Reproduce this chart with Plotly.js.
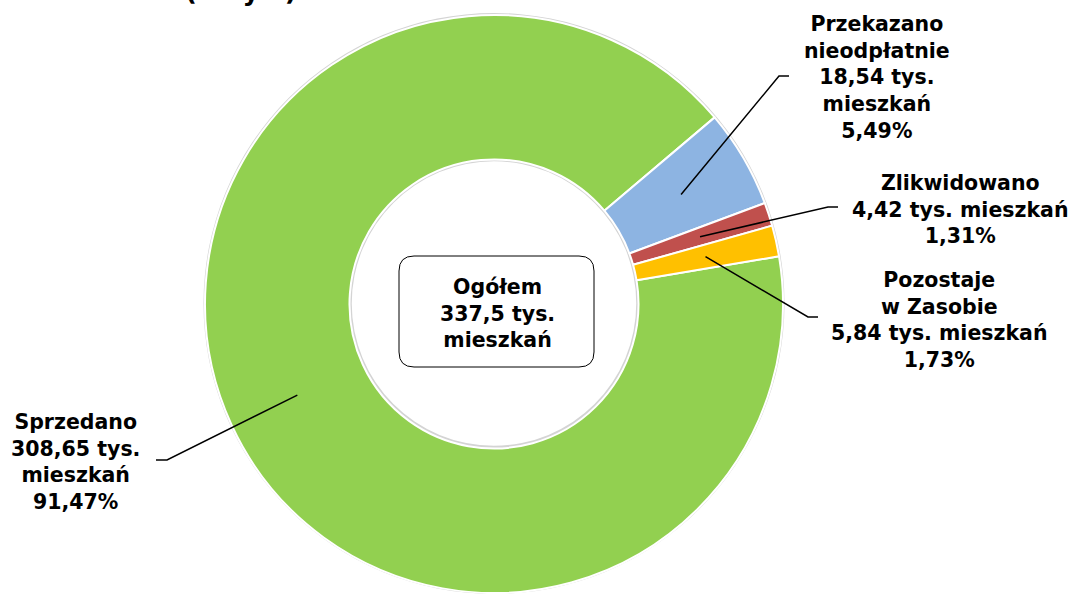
<!DOCTYPE html>
<html>
<head>
<meta charset="utf-8">
<script src="https://cdn.plot.ly/plotly-3.0.1.min.js"></script>
<style>html,body{margin:0;padding:0;background:#fff;}#chart{width:1076px;height:594px;}</style>
</head>
<body>
<div id="chart"></div>
<script>
// ---- data ----
var categories = ['Sprzedano', 'Przekazano<br>nieodpłatnie', 'Zlikwidowano', 'Pozostaje<br>w Zasobie'];
var values = [308.65, 18.54, 4.42, 5.84];
var unitText = [' tys.<br>mieszkań', ' tys.<br>mieszkań', ' tys. mieszkań', ' tys. mieszkań'];
var colors = ['#92D050', '#8DB4E2', '#C0504D', '#FFC000'];
var totalLabel = 'Ogółem';
var titleTail = '(w tys.)';

// ---- layout constants ----
var W = 1076, H = 594;
var CX = 494, CY = 304, R = 289, HOLE = 0.5;
var ROT = 80.5;
var FONT = 'DejaVu Sans, Verdana, sans-serif';
// label placement: elbow point, line end, text centre
var labelPos = [
  {ex: 167, ey: 460, lx: 156, tx: 75,  ty: 462},
  {ex: 779, ey: 76,  lx: 789, tx: 877, ty: 78},
  {ex: 828, ey: 207, lx: 838, tx: 960, ty: 209},
  {ex: 808, ey: 317, lx: 818, tx: 939, ty: 320}
];

function px(x) { return x / W; }
function py(y) { return 1 - y / H; }
function fmt(v, d) {
  var m = Math.pow(10, d);
  return (Math.round(v * m + 1e-7) / m).toFixed(d).replace('.', ',');
}

var total = values.reduce(function (a, b) { return a + b; }, 0);

var traces = [
  { // soft outline behind ring
    type: 'pie', values: [1], labels: ['bg'], hole: (R * HOLE - 2) / (R + 2),
    marker: {colors: ['#d4d4d4']}, textinfo: 'none', hoverinfo: 'skip', sort: false,
    showlegend: false,
    domain: {x: [px(CX - R - 2), px(CX + R + 2)], y: [py(CY + R + 2), py(CY - R - 2)]}
  },
  {
    type: 'pie', values: values, labels: categories, hole: HOLE, sort: false,
    direction: 'clockwise', rotation: ROT,
    marker: {colors: colors, line: {color: '#ffffff', width: 2}},
    textinfo: 'none', showlegend: false,
    domain: {x: [px(CX - R), px(CX + R)], y: [py(CY + R), py(CY - R)]}
  }
];

var shapes = [];
var annotations = [];

// leader lines + labels computed from slice angles
var cum = 0;
var rm = R * (1 + HOLE) / 2;
for (var i = 0; i < values.length; i++) {
  var mid = (ROT + (cum + values[i] / 2) / total * 360) * Math.PI / 180;
  cum += values[i];
  var ax = CX + rm * Math.sin(mid), ay = CY - rm * Math.cos(mid);
  var p = labelPos[i];
  shapes.push({
    type: 'path', xref: 'paper', yref: 'paper',
    path: 'M' + px(ax) + ',' + py(ay) + ' L' + px(p.ex) + ',' + py(p.ey) + ' L' + px(p.lx) + ',' + py(p.ey),
    line: {color: '#000', width: 1.5}
  });
  var pct = values[i] / total * 100;
  annotations.push({
    xref: 'paper', yref: 'paper', x: px(p.tx), y: py(p.ty),
    xanchor: 'center', yanchor: 'middle', showarrow: false, align: 'center',
    text: '<b>' + categories[i] + '<br>' + fmt(values[i], 2) + unitText[i] + '<br>' + fmt(pct, 2) + '%</b>',
    font: {family: FONT, size: 20.5, color: '#000'}
  });
}

// centre box
var bx0 = 399, bx1 = 594, by0 = 256, by1 = 367, rr = 15;
shapes.push({
  type: 'path', xref: 'paper', yref: 'paper',
  path: 'M' + px(bx0 + rr) + ',' + py(by0) +
        ' L' + px(bx1 - rr) + ',' + py(by0) +
        ' Q' + px(bx1) + ',' + py(by0) + ' ' + px(bx1) + ',' + py(by0 + rr) +
        ' L' + px(bx1) + ',' + py(by1 - rr) +
        ' Q' + px(bx1) + ',' + py(by1) + ' ' + px(bx1 - rr) + ',' + py(by1) +
        ' L' + px(bx0 + rr) + ',' + py(by1) +
        ' Q' + px(bx0) + ',' + py(by1) + ' ' + px(bx0) + ',' + py(by1 - rr) +
        ' L' + px(bx0) + ',' + py(by0 + rr) +
        ' Q' + px(bx0) + ',' + py(by0) + ' ' + px(bx0 + rr) + ',' + py(by0) + ' Z',
  line: {color: '#000', width: 1}, fillcolor: '#ffffff'
});
annotations.push({
  xref: 'paper', yref: 'paper', x: px(497), y: py(313),
  xanchor: 'center', yanchor: 'middle', showarrow: false, align: 'center',
  text: '<b>' + totalLabel + '<br>' + fmt(total, 1) + ' tys.<br>mieszkań</b>',
  font: {family: FONT, size: 20.5, color: '#000'}
});

// cut-off title tail at the top edge (cut in the reference too)
annotations.push({
  xref: 'paper', yref: 'paper', x: px(183), y: py(8),
  xanchor: 'left', yanchor: 'bottom', showarrow: false,
  text: '<b>' + titleTail + '</b>',
  font: {family: FONT, size: 26, color: '#000'}
});

var layout = {
  width: W, height: H,
  margin: {l: 0, r: 0, t: 0, b: 0},
  paper_bgcolor: '#ffffff', plot_bgcolor: '#ffffff',
  showlegend: false,
  shapes: shapes,
  annotations: annotations
};

Plotly.newPlot('chart', traces, layout, {staticPlot: true});
</script>
</body>
</html>
